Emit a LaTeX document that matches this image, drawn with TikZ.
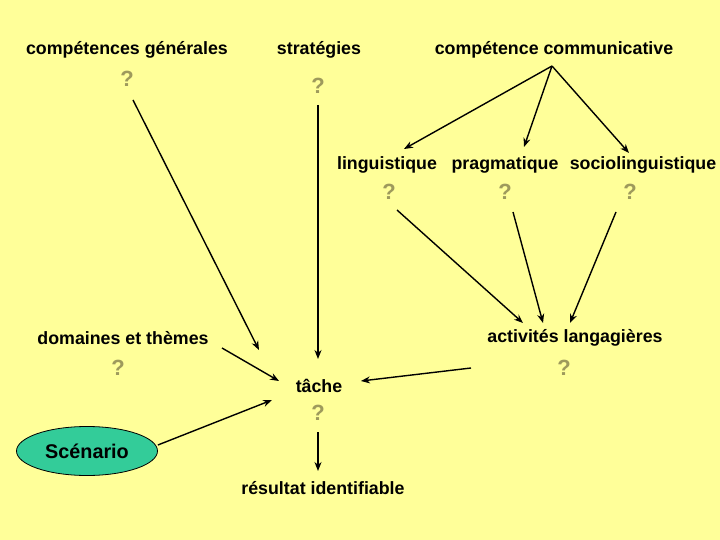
\documentclass[tikz,border=0pt]{standalone}
\usepackage{fontspec}
\setmainfont{Liberation Sans}
\usetikzlibrary{arrows.meta,shapes.geometric}
\definecolor{bgyellow}{RGB}{255,255,153}
\definecolor{qolive}{RGB}{158,154,92}
\definecolor{scengreen}{RGB}{51,204,153}
\begin{document}
\begin{tikzpicture}[x=1pt,y=-1pt,
  lbl/.style={inner sep=0pt,font=\fontsize{17.8}{22}\selectfont\bfseries},
  qm/.style={inner sep=0pt,text=qolive,font=\fontsize{22}{24}\selectfont\bfseries},
  arr/.style={line width=1.4pt,-{Stealth[length=9pt,width=7pt]}}]
\fill[bgyellow] (0,0) rectangle (720,540);
\useasboundingbox (0,0) rectangle (720,540);
% labels
\node[lbl] (cg) at (127,50) {compétences générales};
\node[lbl] (strat) at (319,50) {stratégies};
\node[lbl] (cc) at (554,50) {compétence communicative};
\node[lbl] (ling) at (387,165) {linguistique};
\node[lbl] (prag) at (505,165) {pragmatique};
\node[lbl] (socio) at (643,165) {sociolinguistique};
\node[lbl] (dom) at (123,338) {domaines et thèmes};
\node[lbl] (act) at (575,338) {activités langagières};
\node[lbl] (tache) at (319,386) {tâche};
\node[lbl] (res) at (323,488) {résultat identifiable};
\node[draw,ellipse,fill=scengreen,line width=0.8pt,minimum width=141pt,minimum height=49pt,inner sep=0pt,
      font=\fontsize{19.8}{22}\selectfont\bfseries] (scen) at (87,451) {Scénario};
% question marks
\node[qm] (q1) at (127,79) {?};
\node[qm] (q2) at (318,86) {?};
\node[qm] (q3) at (389,192) {?};
\node[qm] (q4) at (505,192) {?};
\node[qm] (q5) at (630,192) {?};
\node[qm] (q6) at (118,368) {?};
\node[qm] (q7) at (564,368) {?};
\node[qm] (q8) at (318,413) {?};
% connector end points
\coordinate (a1s) at (133,100); \coordinate (a1e) at (259,350);
\coordinate (a2s) at (318,105); \coordinate (a2e) at (318,359);
\coordinate (ccs) at (552,66);
\coordinate (a3e) at (404,149); \coordinate (a4e) at (524,147); \coordinate (a5e) at (629,153);
\coordinate (a6s) at (397,210); \coordinate (a6e) at (523,323);
\coordinate (a7s) at (513,212); \coordinate (a7e) at (543,323);
\coordinate (a8s) at (616,212); \coordinate (a8e) at (570,323);
\coordinate (a9s) at (222,348); \coordinate (a9e) at (279,381);
\coordinate (a10s) at (471,368); \coordinate (a10e) at (361,381);
\coordinate (a11e) at (272,400);
\coordinate (a12s) at (318,432); \coordinate (a12e) at (318,471);
% connectors
\draw[arr] (a1s) -- (a1e);
\draw[arr] (a2s) -- (a2e);
\draw[arr] (ccs) -- (a3e);
\draw[arr] (ccs) -- (a4e);
\draw[arr] (ccs) -- (a5e);
\draw[arr] (a6s) -- (a6e);
\draw[arr] (a7s) -- (a7e);
\draw[arr] (a8s) -- (a8e);
\draw[arr] (a9s) -- (a9e);
\draw[arr] (a10s) -- (a10e);
\draw[arr] (scen.east) ++(0,-6) -- (a11e);
\draw[arr] (a12s) -- (a12e);
\end{tikzpicture}
\end{document}
